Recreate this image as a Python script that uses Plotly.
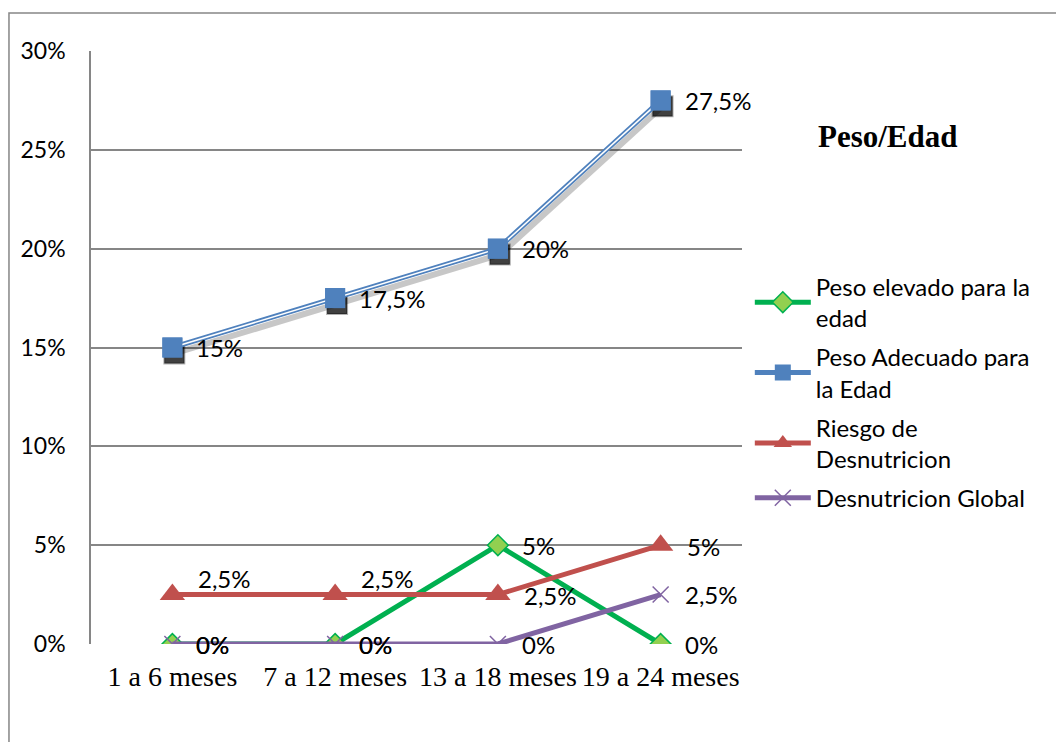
import plotly.graph_objects as go

# Age groups (x categories) and percentage values per series
categorias = ["1 a 6 meses", "7 a 12 meses", "13 a 18 meses", "19 a 24 meses"]
peso_elevado = [0, 0, 5, 0]
peso_adecuado = [15, 17.5, 20, 27.5]
riesgo_desnutricion = [2.5, 2.5, 2.5, 5]
desnutricion_global = [0, 0, 0, 2.5]
y_ticks = [0, 5, 10, 15, 20, 25, 30]
y_tick_labels = ["0%", "5%", "10%", "15%", "20%", "25%", "30%"]

GRID = "#868686"
LABEL_FONT = dict(family="Lato", size=24, color="black")


def etiqueta(v):
    return f"{v:g}".replace(".", ",") + "%"


cat_axis = dict(type="category", categoryorder="array", categoryarray=categorias)

fig = go.Figure()

# Green series sits on the base axes (drawn first, underneath everything)
fig.add_trace(go.Scatter(
    x=categorias, y=peso_elevado, name="Peso elevado para la<br>edad",
    legendgroup="g1",
    mode="lines+markers",
    line=dict(color="#00B050", width=5),
    marker=dict(symbol="diamond", size=16, color="#92D050",
                line=dict(color="#00B050", width=1.5)),
))

# Soft drop shadow under the "Peso Adecuado" line (offset overlay axes)
fig.add_trace(go.Scatter(
    x=categorias, y=peso_adecuado, xaxis="x2", yaxis="y2",
    mode="lines+markers", showlegend=False, hoverinfo="skip",
    line=dict(color="rgba(0,0,0,0.22)", width=6),
    marker=dict(symbol="square", size=20, color="rgba(0,0,0,0.75)",
                line=dict(color="rgba(0,0,0,0.3)", width=2)),
))

# Double line: wide blue stroke with a thin white core
fig.add_trace(go.Scatter(
    x=categorias, y=peso_adecuado, xaxis="x3", yaxis="y3",
    name="Peso Adecuado para<br>la Edad", legendgroup="g2",
    mode="lines+markers", line=dict(color="#4F81BD", width=5),
    marker=dict(symbol="square", size=20, color="#4F81BD",
                line=dict(width=0)),
))
fig.add_trace(go.Scatter(
    x=categorias, y=peso_adecuado, xaxis="x3", yaxis="y3",
    legendgroup="g2", showlegend=False,
    mode="lines", line=dict(color="white", width=1.5), hoverinfo="skip",
))
fig.add_trace(go.Scatter(
    x=categorias, y=peso_adecuado, xaxis="x3", yaxis="y3",
    legendgroup="g2", showlegend=False, mode="markers",
    marker=dict(symbol="square", size=20, color="#4F81BD",
                line=dict(width=0)),
))

fig.add_trace(go.Scatter(
    x=categorias, y=riesgo_desnutricion, xaxis="x3", yaxis="y3",
    name="Riesgo de<br>Desnutricion", legendgroup="g3",
    mode="lines+markers",
    line=dict(color="#C0504D", width=5),
    marker=dict(symbol="triangle-up", size=22, color="#C0504D",
                line=dict(width=0)),
))

fig.add_trace(go.Scatter(
    x=categorias, y=desnutricion_global, xaxis="x3", yaxis="y3",
    name="Desnutricion Global", legendgroup="g4",
    mode="lines+markers",
    line=dict(color="#8064A2", width=5),
    marker=dict(symbol="x-thin", size=16,
                line=dict(color="#8064A2", width=1.5)),
))

# Data labels
for serie in [peso_elevado, peso_adecuado, desnutricion_global]:
    for cat, v in zip(categorias, serie):
        fig.add_annotation(x=cat, y=v, text=etiqueta(v), showarrow=False,
                           xanchor="left", yanchor="middle",
                           xshift=22, yshift=0, font=LABEL_FONT)
for i, (cat, v) in enumerate(zip(categorias, riesgo_desnutricion)):
    if i < 2:
        fig.add_annotation(x=cat, y=v, text=etiqueta(v), showarrow=False,
                           xanchor="center", yanchor="middle",
                           xshift=52, yshift=16, font=LABEL_FONT)
    else:
        fig.add_annotation(x=cat, y=v, text=etiqueta(v), showarrow=False,
                           xanchor="left", yanchor="middle",
                           xshift=24, yshift=-1, font=LABEL_FONT)

# Chart frame around the whole figure area
fig.add_shape(type="rect", xref="paper", yref="paper",
              x0=-0.126, x1=1.5, y0=-0.2, y1=1.064,
              line=dict(color=GRID, width=1.5), layer="below")

fig.add_annotation(text="<b>Peso/Edad</b>", xref="paper", yref="paper",
                   x=1.224, y=0.855, xanchor="center", yanchor="middle",
                   showarrow=False,
                   font=dict(family="Liberation Serif", size=31, color="black"))

fig.update_layout(
    width=1056, height=742,
    margin=dict(l=91, r=314, t=51, b=98),
    paper_bgcolor="white", plot_bgcolor="white",
    font=dict(family="Lato", size=24, color="black"),
    xaxis=dict(**cat_axis, range=[-0.5, 3.5], showgrid=False, zeroline=False,
               showline=False, ticks="outside", ticklen=7,
               tickcolor="rgba(0,0,0,0)",
               tickfont=dict(family="Liberation Serif", size=28, color="black")),
    yaxis=dict(range=[0, 30], tickvals=y_ticks, ticktext=y_tick_labels,
               showgrid=True, gridcolor=GRID, gridwidth=1.5,
               zeroline=False, showline=True, linecolor=GRID, linewidth=1.5,
               ticks="outside", ticklen=19, tickcolor="rgba(0,0,0,0)",
               tickfont=dict(family="Lato", size=23, color="black")),
    xaxis2=dict(**cat_axis, overlaying="x", range=[-0.5 - 0.012, 3.5 - 0.012],
                visible=False),
    yaxis2=dict(overlaying="y", range=[0.3, 30.3], visible=False),
    xaxis3=dict(**cat_axis, overlaying="x", range=[-0.5, 3.5], visible=False),
    yaxis3=dict(overlaying="y", range=[0, 30], visible=False),
    legend=dict(x=1.012, y=0.64, xanchor="left", yanchor="top",
                font=dict(family="Lato", size=24, color="black"),
                bgcolor="rgba(0,0,0,0)", tracegroupgap=5, itemwidth=56),
    showlegend=True,
)

fig.write_html("out.html")
